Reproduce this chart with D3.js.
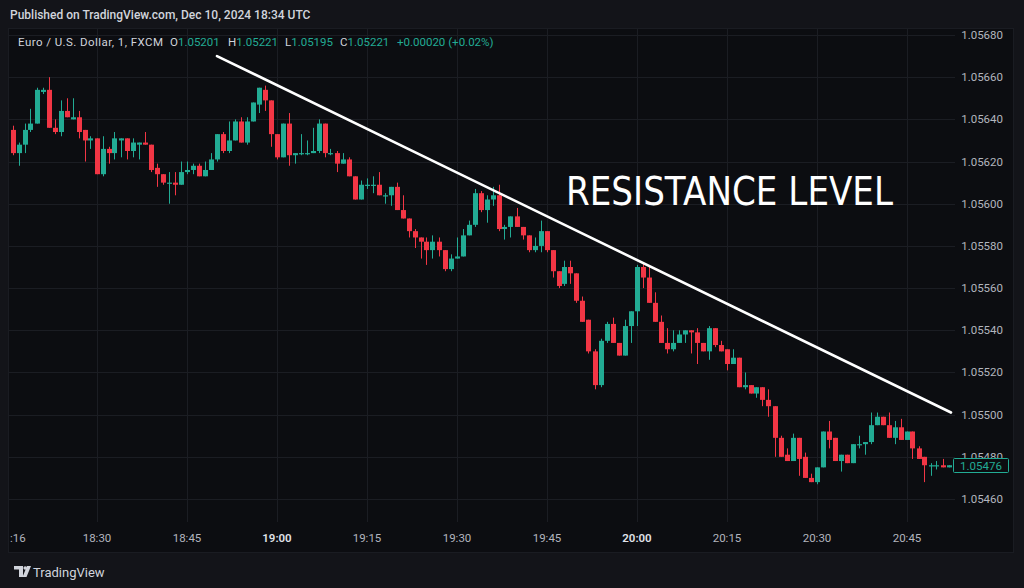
<!DOCTYPE html>
<html><head><meta charset="utf-8">
<script src="https://cdn.jsdelivr.net/npm/d3@7"></script>
<style>html,body{margin:0;padding:0;background:#131419;overflow:hidden}</style>
</head><body>
<svg id="c" width="1024" height="588"></svg>
<script>
const times = ["18:16","18:17","18:18","18:19","18:20","18:21","18:22","18:23","18:24","18:25",
"18:26","18:27","18:28","18:29","18:30","18:31","18:32","18:33","18:34","18:35",
"18:36","18:37","18:38","18:39","18:40","18:41","18:42","18:43","18:44","18:45",
"18:46","18:47","18:48","18:49","18:50","18:51","18:52","18:53","18:54","18:55",
"18:56","18:57","18:58","18:59","19:00","19:01","19:02","19:03","19:04","19:05",
"19:06","19:07","19:08","19:09","19:10","19:11","19:12","19:13","19:14","19:15",
"19:16","19:17","19:18","19:19","19:20","19:21","19:22","19:23","19:24","19:25",
"19:26","19:27","19:28","19:29","19:30","19:31","19:32","19:33","19:34","19:35",
"19:36","19:37","19:38","19:39","19:40","19:41","19:42","19:43","19:44","19:45",
"19:46","19:47","19:48","19:49","19:50","19:51","19:52","19:53","19:54","19:55",
"19:56","19:57","19:58","19:59","20:00","20:01","20:02","20:03","20:04","20:05",
"20:06","20:07","20:08","20:09","20:10","20:11","20:12","20:13","20:14","20:15",
"20:16","20:17","20:18","20:19","20:20","20:21","20:22","20:23","20:24","20:25",
"20:26","20:27","20:28","20:29","20:30","20:31","20:32","20:33","20:34","20:35",
"20:36","20:37","20:38","20:39","20:40","20:41","20:42","20:43","20:44","20:45",
"20:46","20:47","20:48","20:49","20:50","20:51","20:52"];

const open = [1.05635,1.05624,1.05628,1.05635,1.05638,1.05653,1.05654,1.05636,1.05634,1.05644,
1.05640,1.05641,1.05635,1.05630,1.05631,1.05614,1.05626,1.05624,1.05630,1.05631,
1.05625,1.05628,1.05629,1.05628,1.05617,1.05614,1.05610,1.05610,1.05609,1.05615,
1.05616,1.05618,1.05613,1.05616,1.05621,1.05633,1.05625,1.05630,1.05639,1.05629,
1.05639,1.05647,1.05654,1.05649,1.05633,1.05622,1.05638,1.05623,1.05624,1.05624,
1.05624,1.05625,1.05638,1.05624,1.05624,1.05619,1.05621,1.05613,1.05602,1.05609,
1.05609,1.05609,1.05604,1.05604,1.05608,1.05597,1.05593,1.05587,1.05584,1.05582,
1.05578,1.05582,1.05578,1.05569,1.05574,1.05575,1.05585,1.05590,1.05605,1.05597,
1.05602,1.05604,1.05588,1.05589,1.05594,1.05589,1.05585,1.05578,1.05580,1.05587,
1.05578,1.05568,1.05562,1.05570,1.05567,1.05554,1.05545,1.05530,1.05514,1.05535,
1.05543,1.05534,1.05528,1.05542,1.05549,1.05570,1.05565,1.05553,1.05544,1.05534,
1.05531,1.05534,1.05538,1.05540,1.05539,1.05534,1.05530,1.05541,1.05533,1.05531,
1.05524,1.05527,1.05513,1.05514,1.05510,1.05513,1.05507,1.05504,1.05489,1.05481,
1.05478,1.05489,1.05480,1.05470,1.05468,1.05475,1.05492,1.05489,1.05478,1.05481,
1.05477,1.05486,1.05486,1.05487,1.05495,1.05499,1.05495,1.05489,1.05494,1.05488,
1.05492,1.05484,1.05480,1.05476,1.05476,1.05476,1.05475];

const high = [1.05637,1.05629,1.05638,1.05645,1.05655,1.05655,1.05660,1.05640,1.05649,1.05650,
1.05650,1.05644,1.05635,1.05632,1.05631,1.05632,1.05627,1.05634,1.05631,1.05631,
1.05631,1.05629,1.05634,1.05628,1.05619,1.05614,1.05615,1.05615,1.05620,1.05620,
1.05619,1.05619,1.05620,1.05624,1.05633,1.05634,1.05639,1.05640,1.05641,1.05641,
1.05648,1.05655,1.05656,1.05649,1.05633,1.05638,1.05643,1.05624,1.05633,1.05630,
1.05636,1.05640,1.05638,1.05626,1.05625,1.05624,1.05622,1.05613,1.05611,1.05612,
1.05613,1.05615,1.05605,1.05608,1.05610,1.05604,1.05593,1.05588,1.05584,1.05584,
1.05585,1.05584,1.05578,1.05576,1.05584,1.05588,1.05592,1.05607,1.05606,1.05604,
1.05608,1.05609,1.05590,1.05594,1.05598,1.05589,1.05585,1.05584,1.05592,1.05587,
1.05578,1.05568,1.05573,1.05573,1.05567,1.05556,1.05545,1.05531,1.05536,1.05544,
1.05546,1.05534,1.05545,1.05549,1.05571,1.05572,1.05570,1.05558,1.05547,1.05541,
1.05540,1.05540,1.05540,1.05540,1.05541,1.05534,1.05542,1.05541,1.05535,1.05531,
1.05531,1.05527,1.05520,1.05514,1.05513,1.05513,1.05512,1.05504,1.05490,1.05484,
1.05491,1.05489,1.05482,1.05472,1.05475,1.05492,1.05497,1.05489,1.05481,1.05481,
1.05486,1.05490,1.05487,1.05501,1.05501,1.05499,1.05501,1.05497,1.05498,1.05492,
1.05492,1.05485,1.05480,1.05477,1.05478,1.05479,1.05476];

const low = [1.05623,1.05618,1.05624,1.05634,1.05638,1.05652,1.05636,1.05633,1.05632,1.05641,
1.05640,1.05631,1.05620,1.05626,1.05614,1.05613,1.05619,1.05621,1.05622,1.05621,
1.05622,1.05621,1.05628,1.05615,1.05608,1.05609,1.05600,1.05604,1.05609,1.05614,
1.05614,1.05613,1.05613,1.05616,1.05620,1.05624,1.05624,1.05630,1.05629,1.05628,
1.05639,1.05643,1.05644,1.05627,1.05621,1.05622,1.05618,1.05619,1.05623,1.05623,
1.05624,1.05624,1.05622,1.05623,1.05615,1.05619,1.05613,1.05602,1.05602,1.05607,
1.05605,1.05604,1.05600,1.05599,1.05597,1.05593,1.05584,1.05579,1.05574,1.05571,
1.05574,1.05575,1.05568,1.05568,1.05574,1.05575,1.05585,1.05589,1.05596,1.05591,
1.05599,1.05587,1.05583,1.05584,1.05589,1.05583,1.05577,1.05577,1.05577,1.05577,
1.05565,1.05560,1.05561,1.05562,1.05553,1.05544,1.05529,1.05512,1.05513,1.05534,
1.05534,1.05528,1.05528,1.05534,1.05542,1.05560,1.05553,1.05544,1.05534,1.05529,
1.05530,1.05534,1.05534,1.05529,1.05524,1.05530,1.05526,1.05532,1.05530,1.05521,
1.05524,1.05513,1.05512,1.05510,1.05508,1.05504,1.05499,1.05480,1.05480,1.05478,
1.05478,1.05471,1.05470,1.05468,1.05467,1.05475,1.05484,1.05478,1.05473,1.05477,
1.05477,1.05484,1.05481,1.05486,1.05495,1.05495,1.05489,1.05486,1.05488,1.05488,
1.05479,1.05479,1.05468,1.05471,1.05474,1.05475,1.05475];

const close = [1.05624,1.05628,1.05635,1.05638,1.05654,1.05654,1.05636,1.05634,1.05644,1.05641,
1.05641,1.05634,1.05630,1.05631,1.05614,1.05626,1.05624,1.05631,1.05631,1.05625,
1.05629,1.05629,1.05628,1.05616,1.05614,1.05610,1.05610,1.05609,1.05615,1.05616,
1.05618,1.05613,1.05616,1.05621,1.05633,1.05625,1.05630,1.05639,1.05629,1.05639,
1.05648,1.05655,1.05649,1.05633,1.05622,1.05638,1.05623,1.05624,1.05624,1.05624,
1.05625,1.05638,1.05624,1.05624,1.05619,1.05621,1.05613,1.05602,1.05609,1.05609,
1.05609,1.05604,1.05604,1.05608,1.05597,1.05593,1.05587,1.05584,1.05582,1.05578,
1.05582,1.05578,1.05569,1.05574,1.05575,1.05585,1.05590,1.05605,1.05597,1.05602,
1.05604,1.05588,1.05589,1.05594,1.05589,1.05585,1.05578,1.05580,1.05587,1.05578,
1.05568,1.05561,1.05570,1.05567,1.05554,1.05544,1.05530,1.05514,1.05535,1.05543,
1.05534,1.05528,1.05542,1.05549,1.05570,1.05565,1.05553,1.05544,1.05534,1.05531,
1.05534,1.05538,1.05540,1.05539,1.05534,1.05530,1.05541,1.05533,1.05530,1.05524,
1.05527,1.05513,1.05514,1.05510,1.05513,1.05507,1.05504,1.05489,1.05480,1.05478,
1.05489,1.05479,1.05470,1.05468,1.05475,1.05492,1.05488,1.05478,1.05481,1.05477,
1.05486,1.05486,1.05487,1.05495,1.05499,1.05495,1.05489,1.05494,1.05488,1.05492,
1.05484,1.05479,1.05476,1.05476,1.05476,1.05475,1.05476];

const priceTicks = [1.05460,1.05480,1.05500,1.05520,1.05540,1.05560,1.05580,1.05600,1.05620,1.05640,1.05660,1.05680];
const timeTicks = ["18:30","18:45","19:00","19:15","19:30","19:45","20:00","20:15","20:30","20:45"];
const partialTick = {time:"18:16", label:":16"};
const lastPrice = 1.05476;
const headerText = "Published on TradingView.com, Dec 10, 2024 18:34 UTC";
const legendSymbol = "Euro / U.S. Dollar, 1, FXCM";
const legendKeys = ["O","H","L","C"];
const legendValues = ["1.05201","1.05221","1.05195","1.05221"];
const legendChange = "+0.00020 (+0.02%)";
const resistanceTimes = ["18:50","20:52:20"];
const resistancePrices = [1.05670, 1.05501];
const annotation = "RESISTANCE LEVEL";

const GREEN = "#22ab94", RED = "#f23645";
const PANE_BG = "#0c0d11", OUTER_BG = "#131419", GRID = "#1b1d23";

const toMin = t => { const p = t.split(":").map(Number); return p[0]*60 + p[1] + (p[2]||0)/60; };

const svg = d3.select("#c");
const x = d3.scaleLinear().domain([toMin("18:30"), toMin("20:45")]).range([97, 907]);
const y = d3.scaleLinear().domain([1.05460, 1.05680]).range([499, 35]);

const pane = {l:8, t:28, r:1013, b:552};
const plotR = 955, plotB = 522;

svg.append("rect").attr("width",1024).attr("height",588).attr("fill",OUTER_BG);
svg.append("rect").attr("x",pane.l+0.5).attr("y",pane.t+0.5).attr("width",pane.r-pane.l).attr("height",pane.b-pane.t)
  .attr("fill",PANE_BG).attr("stroke","#1a1c22");

// grid
const g = svg.append("g").attr("shape-rendering","crispEdges");
g.selectAll(".hg").data(priceTicks).join("line")
  .attr("x1",pane.l+1).attr("x2",plotR).attr("y1",d=>Math.round(y(d))+0.5).attr("y2",d=>Math.round(y(d))+0.5)
  .attr("stroke",GRID);
g.selectAll(".vg").data(timeTicks).join("line")
  .attr("x1",d=>Math.round(x(toMin(d)))+0.5).attr("x2",d=>Math.round(x(toMin(d)))+0.5)
  .attr("y1",pane.t+1).attr("y2",plotB).attr("stroke",GRID);

// header
svg.append("text").attr("x",10).attr("y",19).attr("fill","#d1d4dc")
  .attr("font-family","Roboto, sans-serif").attr("font-size",12).attr("font-weight",500).text(headerText);

// legend
const lg = svg.append("g").attr("font-family","Roboto, sans-serif").attr("font-size",11.5);
lg.append("text").attr("x",18).attr("y",46).attr("fill","#d1d4dc")
  .attr("textLength",145).attr("lengthAdjust","spacing").text(legendSymbol);
const keyX = [170, 228, 285, 340];
legendKeys.forEach((k,i)=>{
  const t = lg.append("text").attr("x",keyX[i]).attr("y",46);
  t.append("tspan").attr("fill","#d1d4dc").text(k);
  t.append("tspan").attr("fill",GREEN).text(legendValues[i]);
});
lg.append("text").attr("x",397).attr("y",46).attr("fill",GREEN).text(legendChange);

// candles
const candles = times.map((t,i)=>({t:toMin(t),o:open[i],h:high[i],l:low[i],c:close[i]}));
const cg = svg.append("g");
cg.selectAll(".wick").data(candles).join("line")
  .attr("x1",d=>Math.floor(x(d.t))+0.5).attr("x2",d=>Math.floor(x(d.t))+0.5)
  .attr("y1",d=>y(d.h)).attr("y2",d=>y(d.l))
  .attr("stroke",d=>d.c>=d.o?GREEN:RED).attr("stroke-width",1);
cg.selectAll(".body").data(candles).join("rect")
  .attr("x",d=>Math.floor(x(d.t))-2).attr("width",5)
  .attr("y",d=>y(Math.max(d.o,d.c)))
  .attr("height",d=>Math.max(1.2, Math.abs(y(d.o)-y(d.c))))
  .attr("fill",d=>d.c>=d.o?GREEN:RED);

// resistance line
svg.append("line")
  .attr("x1",x(toMin(resistanceTimes[0]))).attr("y1",y(resistancePrices[0]))
  .attr("x2",x(toMin(resistanceTimes[1]))).attr("y2",y(resistancePrices[1]))
  .attr("stroke","#ffffff").attr("stroke-width",2.6).attr("stroke-linecap","round");

svg.append("text").attr("x",566).attr("y",205).attr("fill","#ffffff")
  .attr("font-family","'DejaVu Sans', sans-serif").attr("font-size",39)
  .attr("textLength",327).attr("lengthAdjust","spacingAndGlyphs").text(annotation);

// price axis (the 1.05480 label sits partly under the last-price tag, as in the reference)
const pa = svg.append("g").attr("font-family","Roboto, sans-serif").attr("font-size",11.5).attr("fill","#b2b5be");
pa.selectAll("text").data(priceTicks).join("text")
  .attr("x",1003).attr("y",d=>y(d)+4).attr("text-anchor","end").text(d=>d.toFixed(5));

// last price tag
const ly = y(lastPrice);
svg.append("rect").attr("x",953.5).attr("y",Math.round(ly)-6.5).attr("width",55).attr("height",14)
  .attr("fill",PANE_BG).attr("stroke",GREEN).attr("rx",1);
svg.append("text").attr("x",981).attr("y",ly+4.5).attr("text-anchor","middle")
  .attr("font-family","Roboto, sans-serif").attr("font-size",11.5).attr("fill",GREEN).text(lastPrice.toFixed(5));

// time axis
const ta = svg.append("g").attr("font-family","Roboto, sans-serif").attr("font-size",11.5);
ta.selectAll("text").data(timeTicks).join("text")
  .attr("x",d=>x(toMin(d))).attr("y",542).attr("text-anchor","middle")
  .attr("fill",d=>d.endsWith(":00")?"#e0e3eb":"#b2b5be")
  .attr("font-weight",d=>d.endsWith(":00")?600:400).text(d=>d);
ta.append("text").attr("x",x(toMin(partialTick.time))-3).attr("y",542).attr("fill","#b2b5be").text(partialTick.label);

// footer logo
const fg = svg.append("g").attr("fill","#d1d4dc");
fg.append("path").attr("d","M14,566 H23 V577 H19 V569.5 H14 Z");
fg.append("circle").attr("cx",25.2).attr("cy",568).attr("r",1.8);
fg.append("path").attr("d","M27,566 H31 L26.5,577 H22.5 Z");
svg.append("text").attr("x",33).attr("y",576.5).attr("fill","#d1d4dc")
  .attr("font-family","Roboto, sans-serif").attr("font-size",13).text("TradingView");
</script>
</body></html>
